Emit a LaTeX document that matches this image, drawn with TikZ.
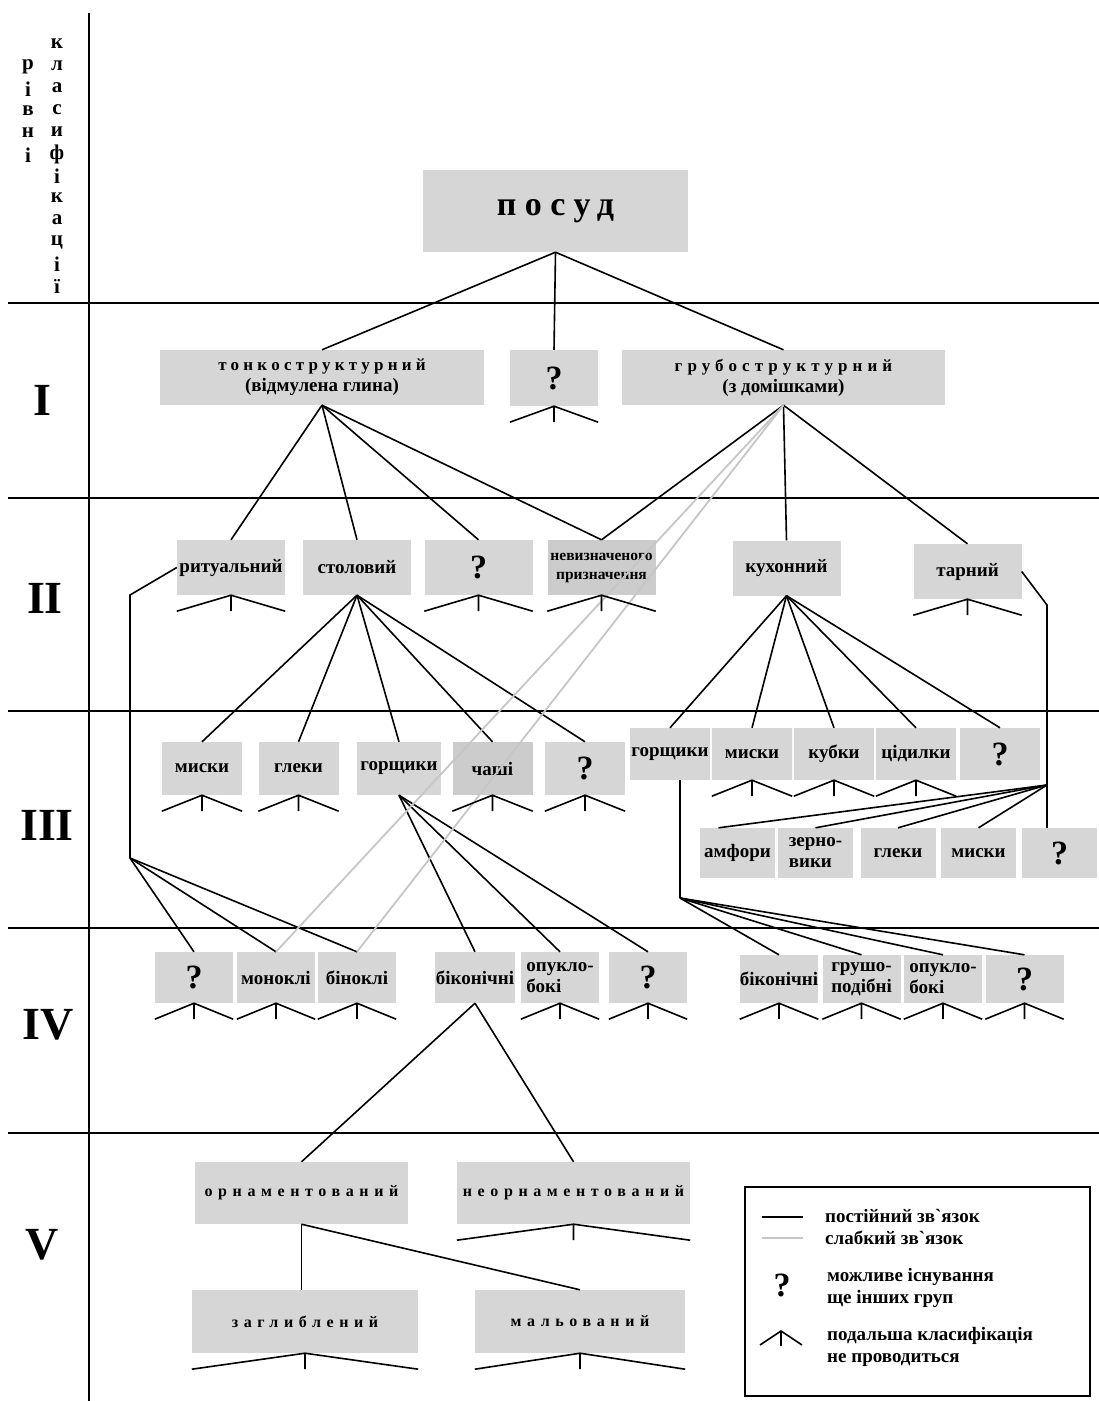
\documentclass[tikz,border=0pt]{standalone}
\usepackage{fontspec}
\setmainfont{Liberation Serif}
\usetikzlibrary{calc}

\definecolor{boxFill}{RGB}{214,214,214}
\definecolor{boxFillDark}{RGB}{204,204,204}
\definecolor{weakGray}{RGB}{198,198,198}
\tikzstyle{levelRule}=[line width=1.4pt]
\tikzstyle{strongLink}=[line width=1.6pt,black]
\tikzstyle{weakLink}=[line width=1.8pt,weakGray]
\tikzstyle{groupBox}=[fill=boxFill,inner sep=0pt,align=center,font=\bfseries\fontsize{19}{21}\selectfont]
\tikzstyle{groupTwo}=[groupBox,minimum width=108pt,minimum height=55pt]
\tikzstyle{groupThree}=[groupBox,minimum width=80pt,minimum height=53pt]
\tikzstyle{groupFour}=[groupBox,minimum width=78pt,minimum height=51pt]
\tikzstyle{unknown}=[font=\bfseries\fontsize{34}{36}\selectfont]
\tikzstyle{spacedGroup}=[groupBox,font=\bfseries\fontsize{16}{18}\selectfont\addfontfeature{LetterSpace=35}]
\tikzstyle{levelNum}=[font=\bfseries\fontsize{46}{48}\selectfont]
\tikzstyle{levelWord}=[inner sep=0pt,font=\bfseries\fontsize{21}{22}\selectfont]
\tikzstyle{legendText}=[anchor=west,align=left,inner sep=0pt,font=\bfseries\fontsize{19}{22}\selectfont]

\newcommand{\spaced}[2]{{\addfontfeature{LetterSpace=#1}#2}}
\newcommand{\stubMark}[1]{\draw[strongLink] ($(#1.south west)+(0,16)$) -- (#1.south) -- ($(#1.south east)+(0,16)$) (#1.south) -- ++(0,16);}

\begin{document}
\begin{tikzpicture}[x=1pt,y=-1pt]
\useasboundingbox (0,0) rectangle (1099,1401);
% levels
\draw[levelRule] (89,13) -- (89,1401);
\foreach \y in {303,498,711,928,1133}
        \draw[levelRule] (8,\y) -- (1099,\y);
\foreach \ch [count=\i] in {р,і,в,н,і}
        \node[levelWord] (rivni\i) at (28,{45+22*\i}) {\ch};
\foreach \ch [count=\i] in {к,л,а,с,и,ф,і,к,а,ц,і,ї}
        \node[levelWord] (klas\i) at (57,{22+22*\i}) {\ch};
\node[levelNum] (lvlI) at (42,400) {I};
\node[levelNum] (lvlII) at (45,598) {II};
\node[levelNum] (lvlIII) at (47,825) {III};
\node[levelNum] (lvlIV) at (48,1025) {IV};
\node[levelNum] (lvlV) at (42,1245) {V};

% groups
\node[groupBox,minimum width=265pt,minimum height=82pt] (posud) at (555.5,211)
        {\fontsize{34}{36}\selectfont\spaced{25}{посуд}};
\node[groupBox,minimum width=324pt,minimum height=55pt] (tonko) at (322,377.5)
        {{\fontsize{17}{19}\selectfont\spaced{25}{тонкоструктурний}}\\(відмулена глина)};
\node[groupBox,unknown,minimum width=88pt,minimum height=56pt] (qI) at (554,378) {?};
\node[groupBox,minimum width=323pt,minimum height=55pt] (grubo) at (783.5,377.5)
        {{\fontsize{17}{19}\selectfont\spaced{30}{грубоструктурний}}\\(з домішками)};

\node[groupTwo] (ritual) at (231,567.5) {ритуальний};
\node[groupTwo] (stol) at (357,567.5) {столовий};
\node[groupTwo,unknown] (qII) at (478.5,567.5) {?};
\node[groupTwo,fill=boxFillDark,font=\bfseries\fontsize{15.5}{19}\selectfont] (nevyz) at (601.5,567.5) {невизначеного\\призначення};
\node[groupTwo] (kuh) at (786.5,568) {кухонний};
\node[groupTwo] (tar) at (967.5,571.5) {тарний};

\node[groupThree] (miskyL) at (202,768.5) {миски};
\node[groupThree] (hlekyL) at (298.5,768.5) {глеки};
\node[groupThree,minimum width=84pt] (horshL) at (399,768.5) {горщики};
\node[groupThree,fill=boxFillDark] (chashi) at (492.5,768.5) {чаші};
\node[groupThree,unknown] (qIIIa) at (585,768.5) {?};

\node[groupThree,minimum height=52pt] (horshR) at (670,754) {горщики};
\node[groupThree,minimum height=52pt] (miskyR) at (752,754) {миски};
\node[groupThree,minimum height=52pt] (kubky) at (834,754) {кубки};
\node[groupThree,minimum height=52pt] (tsidylky) at (916,754) {цідилки};
\node[groupThree,unknown,minimum height=52pt] (qIIIb) at (1000,754) {?};

\node[groupThree,minimum width=75pt,minimum height=50pt] (amfory) at (737.5,853) {амфори};
\node[groupThree,minimum width=75pt,minimum height=50pt,align=left] (zerno) at (815.5,853) {зерно-\\вики};
\node[groupThree,minimum width=75pt,minimum height=50pt] (hlekyR) at (898,853) {глеки};
\node[groupThree,minimum width=75pt,minimum height=50pt] (miskyS) at (978.5,853) {миски};
\node[groupThree,unknown,minimum width=75pt,minimum height=50pt] (qIIIc) at (1059.5,853) {?};

\node[groupFour,unknown] (qIVa) at (194,977.5) {?};
\node[groupFour] (monokli) at (276,977.5) {моноклі};
\node[groupFour] (binokli) at (357,977.5) {біноклі};
\node[groupFour,minimum width=80pt] (bikonL) at (475,977.5) {біконічні};
\node[groupFour,align=left] (opukloL) at (560,977.5) {опукло-\\бокі};
\node[groupFour,unknown] (qIVb) at (648,977.5) {?};

\node[groupFour,minimum height=48pt] (bikonR) at (779,979) {біконічні};
\node[groupFour,minimum height=48pt] (grusho) at (861.5,979) {грушо-\\подібні};
\node[groupFour,minimum height=48pt,align=left] (opukloR) at (943,979) {опукло-\\бокі};
\node[groupFour,unknown,minimum height=48pt] (qIVc) at (1024.5,979) {?};

\node[spacedGroup,minimum width=213pt,minimum height=62pt] (ornam) at (301.5,1193) {орнаментований};
\node[spacedGroup,minimum width=233pt,minimum height=62pt] (neornam) at (573.5,1193) {неорнаментований};
\node[spacedGroup,minimum width=226pt,minimum height=63pt] (zaglyb) at (305,1321.5) {заглиблений};
\node[spacedGroup,minimum width=210pt,minimum height=63pt] (malov) at (580,1321.5) {мальований};

% links
\foreach \t in {tonko,qI,grubo}
        \draw[strongLink] (posud.south) -- (\t.north);
\foreach \t in {ritual,stol,qII,nevyz}
        \draw[strongLink] (tonko.south) -- (\t.north);
\foreach \t in {nevyz,kuh,tar}
        \draw[strongLink] (grubo.south) -- (\t.north);
\foreach \t in {miskyL,hlekyL,horshL,chashi,qIIIa}
        \draw[strongLink] (stol.south) -- (\t.north);
\foreach \t in {horshR,miskyR,kubky,tsidylky,qIIIb}
        \draw[strongLink] (kuh.south) -- (\t.north);
\coordinate (ritualBend) at (130,595);
\coordinate (ritualFork) at (130,858);
\draw[strongLink] (ritual.west) -- (ritualBend) -- (ritualFork);
\foreach \t in {qIVa,monokli,binokli}
        \draw[strongLink] (ritualFork) -- (\t.north);
\coordinate (tarBend) at (1047,605);
\coordinate (tarFork) at (1047,785);
\draw[strongLink] (tar.east) -- (tarBend) -- (tarFork) -- (tarFork |- qIIIc.north);
\draw[strongLink] (tarFork) -- ([xshift=-19pt]amfory.north);
\foreach \t in {zerno,hlekyR,miskyS}
        \draw[strongLink] (tarFork) -- (\t.north);
\coordinate (horshFork) at (680,898);
\draw[strongLink] ([xshift=10pt]horshR.south) -- (horshFork);
\foreach \t in {bikonR,grusho,opukloR,qIVc}
        \draw[strongLink] (horshFork) -- (\t.north);
\foreach \t in {bikonL,opukloL,qIVb}
        \draw[strongLink] (horshL.south) -- (\t.north);
\foreach \t in {ornam,neornam}
        \draw[strongLink] (bikonL.south) -- (\t.north);
\draw[strongLink] (ornam.south) -- (ornam.south |- zaglyb.north);
\draw[strongLink] (ornam.south) -- (malov.north);
\foreach \t in {monokli,binokli}
        \draw[weakLink] (grubo.south) -- (\t.north);

% no further classification
\foreach \n in {qI,ritual,qII,nevyz,tar,miskyL,hlekyL,chashi,qIIIa,miskyR,kubky,tsidylky,
        qIVa,monokli,binokli,opukloL,qIVb,bikonR,grusho,opukloR,qIVc,neornam,zaglyb,malov}
        {\stubMark{\n}}

% legend
\node[draw,line width=1.4pt,minimum width=345pt,minimum height=209pt] (legend) at (917.5,1291.5) {};
\coordinate (lgStrongA) at (762,1217);
\coordinate (lgStrongB) at (803,1217);
\coordinate (lgWeakA) at (762,1238);
\coordinate (lgWeakB) at (803,1238);
\draw[strongLink] (lgStrongA) -- (lgStrongB);
\draw[weakLink] (lgWeakA) -- (lgWeakB);
\node[legendText] (lgStrong) at (825,1216) {постійний зв\textasciigrave язок};
\node[legendText] (lgWeak) at (825,1238) {слабкий зв\textasciigrave язок};
\node[unknown] (lgQ) at (782,1285) {?};
\node[legendText] (lgMaybe) at (827,1288) {можливе існування\\ще інших груп};
\coordinate (lgApex) at (781,1331);
\draw[strongLink] ($(lgApex)+(-21,14)$) -- (lgApex) -- ($(lgApex)+(21,14)$) (lgApex) -- ++(0,15);
\node[legendText] (lgStub) at (827,1347) {подальша класифікація\\не проводиться};
\end{tikzpicture}
\end{document}
